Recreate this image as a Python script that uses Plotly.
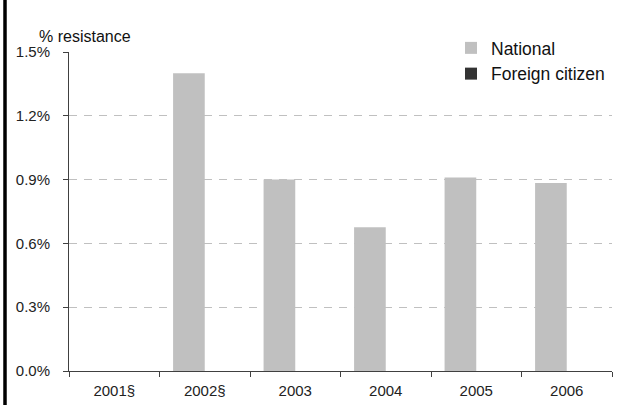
import plotly.graph_objects as go

years = ["2001§", "2002§", "2003", "2004", "2005", "2006"]
national = [None, 1.40, 0.90, 0.676, 0.91, 0.884]
foreign = [None, 0, 0, 0, 0, 0]
y_ticks = [0, 0.3, 0.6, 0.9, 1.2, 1.5]
y_tick_labels = ["0.0%", "0.3%", "0.6%", "0.9%", "1.2%", "1.5%"]

fig = go.Figure()
fig.add_trace(go.Bar(x=years, y=national, name="National",
                     marker=dict(color="#c0c0c0", line=dict(width=0)),
                     legendgroup="a"))
fig.add_trace(go.Bar(x=years, y=foreign, name="Foreign citizen",
                     marker=dict(color="#333333", line=dict(width=0)),
                     legendgroup="b"))

L, R, T, B = 69, 14, 52, 34
W, H = 626, 405
pw = W - L - R
ph = H - T - B

fig.update_layout(
    width=W, height=H,
    margin=dict(l=L, r=R, t=T, b=B, autoexpand=False),
    paper_bgcolor="white", plot_bgcolor="white",
    barmode="group", bargap=0.30, bargroupgap=0,
    font=dict(family="Liberation Sans, Arial, sans-serif", color="#222"),
    showlegend=True,
    legend=dict(x=(451 - L) / pw, y=1 + (52 - 30) / ph, xanchor="left", yanchor="top",
                font=dict(size=17.5, color="#111"), bgcolor="white",
                tracegroupgap=5, traceorder="normal"),
    xaxis=dict(type="category", showline=True, linecolor="#404040", linewidth=1,
               ticks="outside", ticklen=5, tickcolor="#404040", tickson="boundaries",
               tickfont=dict(size=15, color="#222"), showgrid=False,
               ticklabelstandoff=6),
    yaxis=dict(range=[0, 1.5], tickvals=y_ticks, ticktext=y_tick_labels,
               showline=True, linecolor="#404040", linewidth=1,
               ticks="outside", ticklen=5, tickcolor="#404040",
               tickfont=dict(size=15, color="#222"),
               showgrid=True, gridcolor="#c0c0c0", gridwidth=1, griddash="8px,7px",
               zeroline=False, ticklabelstandoff=10),
    annotations=[dict(text="% resistance", xref="paper", yref="paper",
                      x=(37 - L) / pw, y=1 + (52 - 36.5) / ph, xanchor="left", yanchor="middle",
                      showarrow=False, font=dict(size=16, color="#111"))],
    shapes=[dict(type="line", xref="paper", yref="paper",
                 x0=(5 - L) / pw, x1=(5 - L) / pw, y0=-B / ph - 0.01, y1=1 + T / ph + 0.01,
                 line=dict(color="black", width=3.5))],
)

fig.write_html("out.html", config={"displayModeBar": False})

with open("out.html", "r", encoding="utf-8") as f:
    html = f.read()
html = html.replace("<body>", '<body style="margin:0;padding:0;overflow:hidden">', 1)
with open("out.html", "w", encoding="utf-8") as f:
    f.write(html)
